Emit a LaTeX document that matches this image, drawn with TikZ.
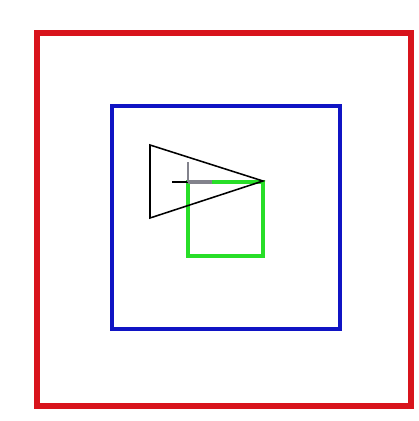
\documentclass[tikz,border=0pt]{standalone}
\usepackage{xcolor}
\definecolor{outerred}{RGB}{216,20,28}
\definecolor{innerblue}{RGB}{16,20,196}
\definecolor{boxgreen}{RGB}{40,222,40}
\definecolor{trailgray}{RGB}{130,130,140}

\begin{document}
\begin{tikzpicture}[x=0.025cm, y=-0.025cm]

% Canvas
\useasboundingbox (0,0) rectangle (419,421);
\fill[white] (0,0) rectangle (419,421);

% Outer Square
\draw[outerred, line width=3.6pt] (37,33) rectangle (411,406);

% Inner Square
\draw[innerblue, line width=3.4pt] (112,106) rectangle (340,329);

% Green Square
\draw[boxgreen, line width=3.2pt] (188,182) rectangle (263,256);

% Gray trail on top edge
\draw[trailgray, line width=2.6pt] (188,182) -- (212,182);
\draw[black, line width=1pt] (172,182) -- (188,182);
\draw[trailgray, line width=0.8pt] (188,162) -- (188,182);

% Triangle
\draw[black, line width=1.1pt] (150,145) -- (263,181) -- (150,218) -- cycle;

\end{tikzpicture}
\end{document}
